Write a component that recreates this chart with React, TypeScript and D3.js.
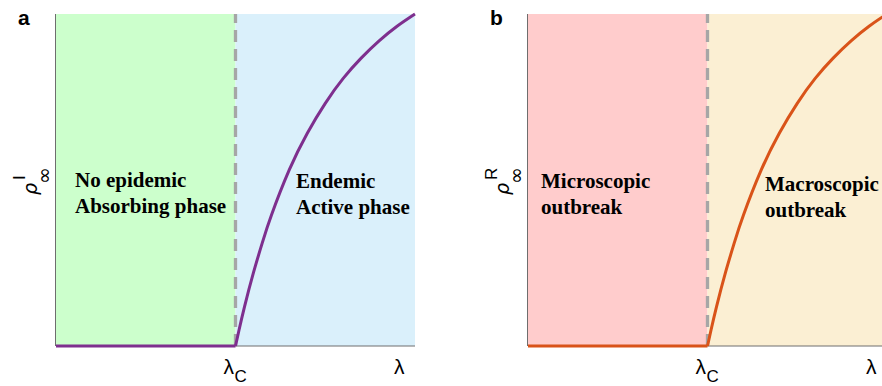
import React from "react";
import * as d3 from "d3";

// read-off values (λ normalised so λc = 1, ρ normalised to the top of the axis)
const lambdaFlat = [0, 1];
const rhoFlat = [0, 0];
const lambdaCurveA = [1, 1.02, 1.05, 1.1, 1.15, 1.2, 1.3, 1.4, 1.5, 1.6, 1.7, 1.8, 1.9, 2.0];
const rhoCurveA = [0, 0.049, 0.118, 0.221, 0.312, 0.394, 0.531, 0.641, 0.731, 0.806, 0.867, 0.919, 0.963, 1.0];
const lambdaCurveB = [1, 1.02, 1.05, 1.1, 1.15, 1.2, 1.3, 1.4, 1.5, 1.6, 1.7, 1.8, 1.9, 2.0];
const rhoCurveB = [0, 0.049, 0.118, 0.221, 0.312, 0.394, 0.531, 0.641, 0.731, 0.806, 0.867, 0.919, 0.963, 1.0];
const lambdaC = 1;
const lambdaMax = 2;
const panelLetters = ["a", "b"];
const phaseTextA = [["No epidemic", "Absorbing phase"], ["Endemic", "Active phase"]];
const phaseTextB = [["Microscopic", "outbreak"], ["Macroscopic", "outbreak"]];
const superscripts = ["I", "R"];

const W = 882;
const H = 386;
const TOP = 14;
const BOTTOM = 346;
const PANEL_W = 359;

function Panel({ x0, letter, sup, texts, leftFill, rightFill, color, lam, rho, textPos }: any) {
  const x = d3.scaleLinear().domain([0, lambdaMax]).range([x0, x0 + PANEL_W]);
  const y = d3.scaleLinear().domain([0, 1]).range([BOTTOM, TOP]);
  const line = d3
    .line<number>()
    .x((_, i) => x(lam[i]))
    .y((d) => y(d))
    .curve(d3.curveNatural);
  const flat = d3
    .line<number>()
    .x((_, i) => x(lambdaFlat[i]))
    .y((d) => y(d));
  const xc = x(lambdaC);
  const labX = x0 - 19;
  const labY = 195;
  return (
    <g>
      <rect x={x(0)} y={TOP} width={xc - x(0)} height={BOTTOM - TOP} fill={leftFill} />
      <rect x={xc} y={TOP} width={x(lambdaMax) - xc} height={BOTTOM - TOP} fill={rightFill} />
      <line x1={x(0) - 0.5} x2={x(0) - 0.5} y1={TOP} y2={BOTTOM} stroke="#6e6e6e" strokeWidth={1} />
      <line x1={x(0)} x2={x(lambdaMax)} y1={BOTTOM} y2={BOTTOM} stroke="#6e6e6e" strokeWidth={1} />
      <line
        x1={xc}
        x2={xc}
        y1={BOTTOM}
        y2={TOP}
        stroke="#a6a6a6"
        strokeWidth={3.3}
        strokeDasharray="12,7"
      />
      <path d={flat(rhoFlat) || ""} fill="none" stroke={color} strokeWidth={3} />
      <path d={line(rho) || ""} fill="none" stroke={color} strokeWidth={3} />
      <text
        x={x0 - 38}
        y={25}
        fontFamily="Liberation Sans, Arial, sans-serif"
        fontWeight="bold"
        fontSize={21}
      >
        {letter}
      </text>
      {/* y label */}
      <g transform={`translate(${labX},${labY}) rotate(-90)`}>
        <text x={0} y={0} fontFamily="DejaVu Sans, sans-serif" fontStyle="italic" fontSize={19}>
          ρ
        </text>
        <text x={15} y={-12} fontFamily="Liberation Sans, Arial, sans-serif" fontSize={17}>
          {sup}
        </text>
        <text x={11} y={14} fontFamily="DejaVu Sans, sans-serif" fontSize={20}>
          ∞
        </text>
      </g>
      {/* x labels */}
      <text x={xc - 12} y={374} fontFamily="Liberation Sans, Arial, sans-serif" fontSize={21}>
        λ
      </text>
      <text x={xc - 1} y={382} fontFamily="Liberation Sans, Arial, sans-serif" fontSize={17}>
        C
      </text>
      <text x={x(lambdaMax) - 21} y={374} fontFamily="Liberation Sans, Arial, sans-serif" fontSize={21}>
        λ
      </text>
      {/* phase texts */}
      {texts.map((t: string[], j: number) => (
        <text
          key={j}
          x={textPos[j].x}
          y={textPos[j].y}
          fontFamily="Liberation Serif, Times New Roman, serif"
          fontWeight="bold"
          fontSize={21}
        >
          <tspan x={textPos[j].x} dy={0}>
            {t[0]}
          </tspan>
          <tspan x={textPos[j].x} dy={26}>
            {t[1]}
          </tspan>
        </text>
      ))}
    </g>
  );
}

export default function App() {
  return (
    <svg
      width={W}
      height={H}
      style={{ position: "absolute", left: 0, top: 0, display: "block", background: "#fff" }}
    >
      <rect x={0} y={0} width={W} height={H} fill="#fff" />
      <Panel
        x0={56}
        letter={panelLetters[0]}
        sup={superscripts[0]}
        texts={phaseTextA}
        leftFill="#ccffcc"
        rightFill="#daf0fb"
        color="#7e2f8e"
        lam={lambdaCurveA}
        rho={rhoCurveA}
        textPos={[{ x: 75, y: 187 }, { x: 296, y: 188 }]}
      />
      <Panel
        x0={528}
        letter={panelLetters[1]}
        sup={superscripts[1]}
        texts={phaseTextB}
        leftFill="#ffcccc"
        rightFill="#fbefd3"
        color="#d95319"
        lam={lambdaCurveB}
        rho={rhoCurveB}
        textPos={[{ x: 541, y: 188 }, { x: 765, y: 191 }]}
      />
    </svg>
  );
}
